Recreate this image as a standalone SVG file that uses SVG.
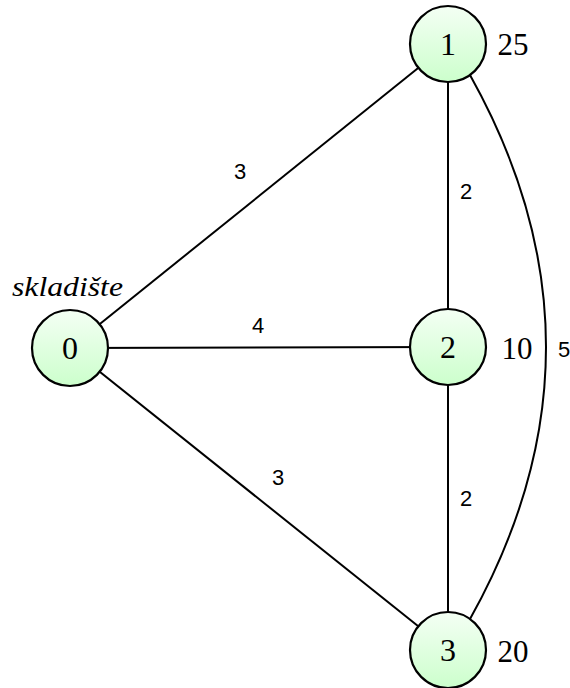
<svg xmlns="http://www.w3.org/2000/svg" width="570" height="688" viewBox="0 0 570 688">
<defs>
<linearGradient id="g" x1="0" y1="0" x2="0" y2="1">
<stop offset="0" stop-color="#f4fff4"/>
<stop offset="1" stop-color="#ccffcc"/>
</linearGradient>
<style>
.e{stroke:#000;stroke-width:2;fill:none}
.n{fill:url(#g);stroke:#000;stroke-width:2.2}
.nt{font-family:"Liberation Serif",serif;font-size:32px;text-anchor:middle;dominant-baseline:central}
.w{font-family:"Liberation Serif",serif;font-size:31px;text-anchor:middle;dominant-baseline:central}
.el{font-family:"Liberation Sans",sans-serif;font-size:22px;text-anchor:middle;dominant-baseline:central}
.lab{font-family:"Liberation Serif",serif;font-style:italic;font-size:27px}
</style>
</defs>
<rect width="570" height="688" fill="#fff"/>
<g id="edges">
<line class="e" x1="70" y1="348" x2="448" y2="44"/>
<line class="e" x1="70" y1="348" x2="448" y2="347"/>
<line class="e" x1="70" y1="348" x2="448" y2="650"/>
<line class="e" x1="448" y1="44" x2="448" y2="347"/>
<line class="e" x1="448" y1="347" x2="448" y2="650"/>
<path class="e" d="M470,75 Q622,347 470,619"/>
<text class="el" x="240" y="171">3</text>
<text class="el" x="258" y="325">4</text>
<text class="el" x="278" y="477">3</text>
<text class="el" x="466" y="191">2</text>
<text class="el" x="466" y="498">2</text>
<text class="el" x="564" y="349">5</text>
</g>
<g id="node0">
<circle class="n" cx="70" cy="348" r="38"/>
<text class="nt" x="70" y="348">0</text>
<text class="lab" x="12" y="296" textLength="111" lengthAdjust="spacingAndGlyphs">skladište</text>
</g>
<g id="node1">
<circle class="n" cx="448" cy="44" r="38"/>
<text class="nt" x="448" y="44">1</text>
<text class="w" x="513" y="44">25</text>
</g>
<g id="node2">
<circle class="n" cx="448" cy="347" r="38"/>
<text class="nt" x="448" y="347">2</text>
<text class="w" x="517" y="348">10</text>
</g>
<g id="node3">
<circle class="n" cx="448" cy="650" r="38"/>
<text class="nt" x="448" y="650">3</text>
<text class="w" x="513" y="651">20</text>
</g>
</svg>
